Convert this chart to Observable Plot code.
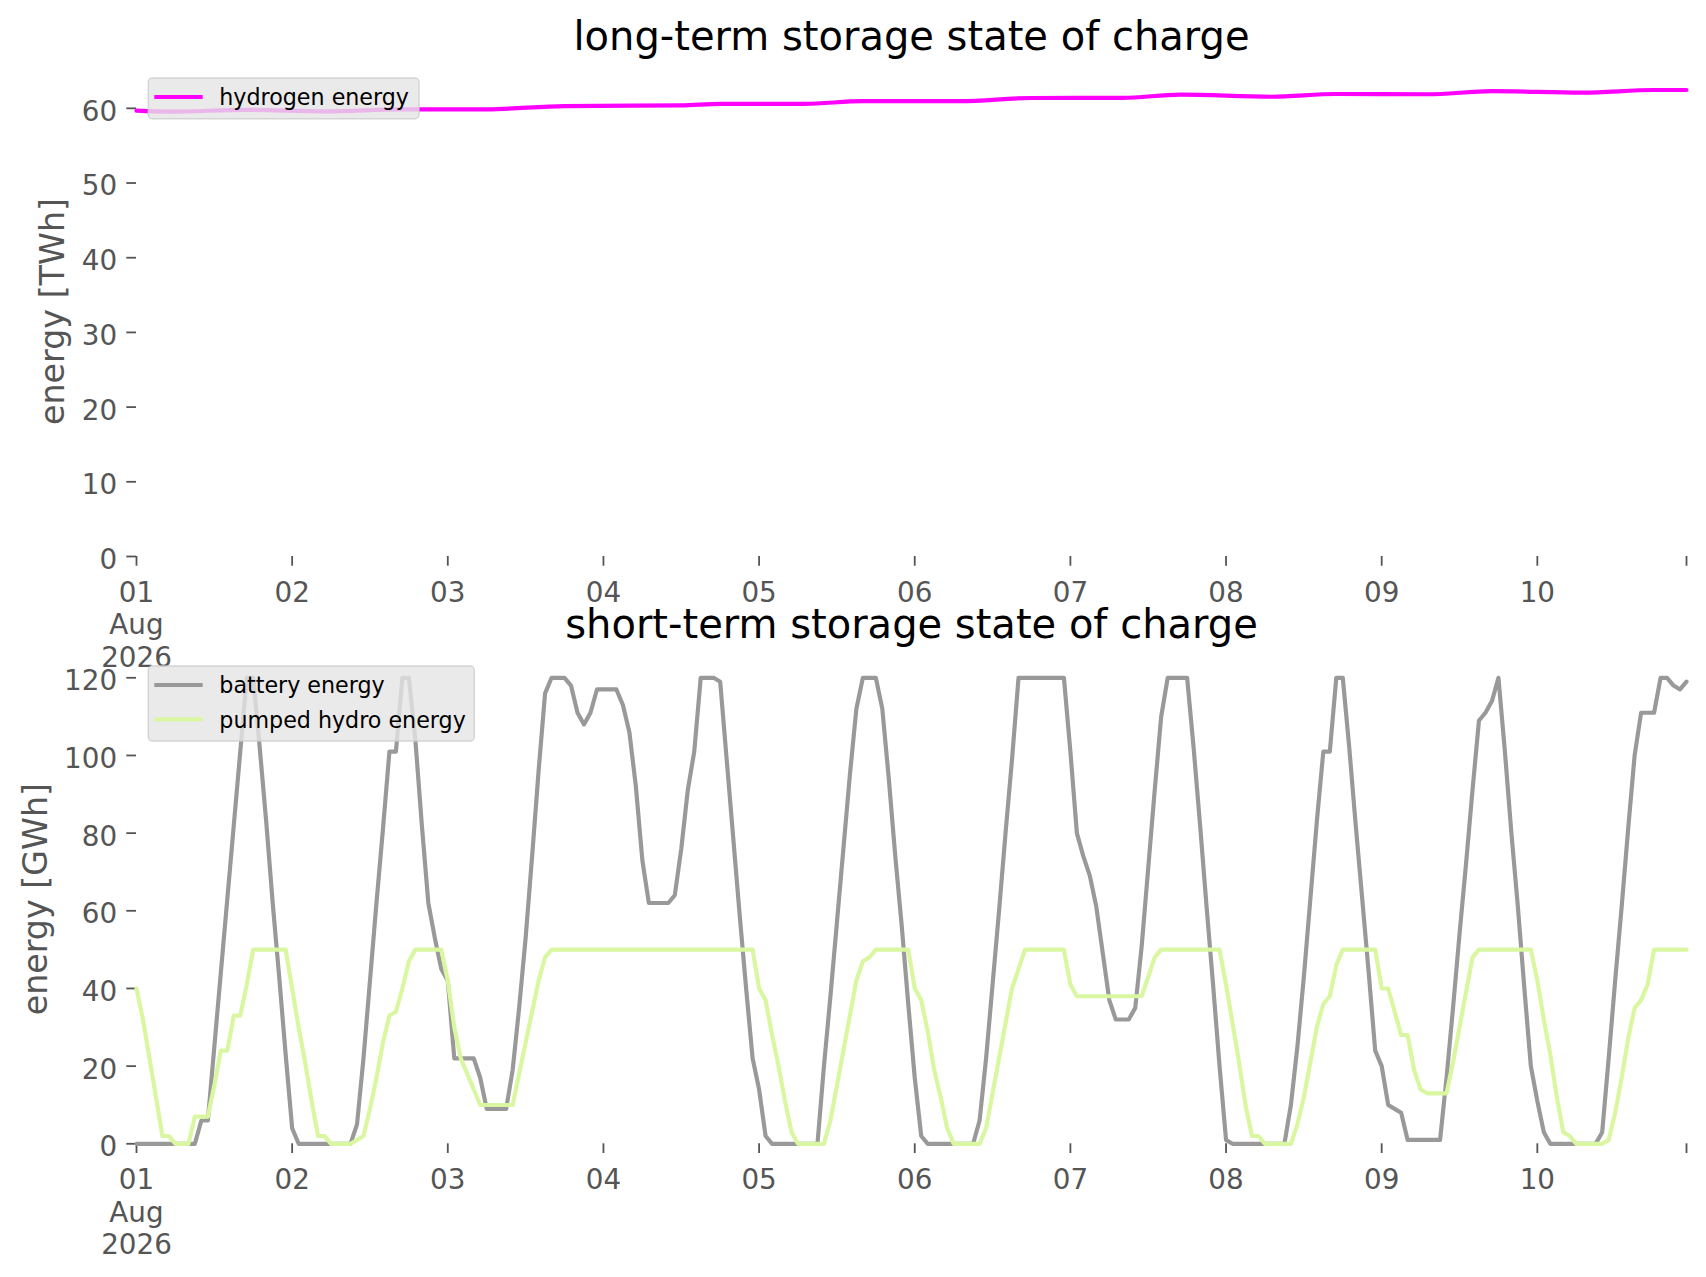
<!DOCTYPE html>
<html>
<head>
<meta charset="utf-8">
<script src="https://cdn.jsdelivr.net/npm/d3@7"></script>
<script src="https://cdn.jsdelivr.net/npm/@observablehq/plot@0.6"></script>
<style>
  html, body { margin: 0; padding: 0; background: #fff; overflow: hidden; }
  #wrap { position: relative; width: 1706px; height: 1277px; font-family: "DejaVu Sans", sans-serif; }
  #wrap > svg, #wrap > .lg { position: absolute; left: 0; }
</style>
</head>
<body>
<div id="wrap"></div>
<script>
// ---------------- data ----------------
const startDate = "2026-08-01T00:00:00Z";

// hydrogen state of charge, TWh (read at breakpoints, hours since start)
const hydrogenHours = [0, 5, 17, 29, 41, 54, 66, 84, 90, 103, 112, 127, 138, 152, 161, 175, 185, 199, 209, 223, 234, 239];
const hydrogenTWh   = [59.7, 59.55, 59.8, 59.6, 59.85, 59.87, 60.3, 60.4, 60.6, 60.6, 60.97, 60.97, 61.38, 61.4, 61.83, 61.55, 61.92, 61.88, 62.3, 62.1, 62.45, 62.45];

// battery state of charge, GWh, hourly (one line per day)
const batteryGWh = [
  0,0,0,0,0,0,0,0,0,0,6,6,25,44,63,82,101,120,120,102,83,62,43,23,          // 01
  4,0,0,0,0,0,0,0,0,0,5,22,42,62,81,101,101,120,120,104,82,62,53,45,        // 02
  42,22,22,22,22,17,9,9,9,9,19,35,53,74,96,116,120,120,120,118,111,108,111,117, // 03
  117,117,117,113,106,92,73,62,62,62,62,64,76,91,101,120,120,120,119,99,79,59,40,22, // 04
  14,2,0,0,0,0,0,0,0,0,20,38,57,76,95,112,120,120,120,112,94,74,56,36,      // 05
  17,2,0,0,0,0,0,0,0,0,6,22,41,60,80,99,120,120,120,120,120,120,120,120,    // 06
  101,80,74,69,61,49,37,32,32,32,35,51,71,91,110,120,120,120,120,102,82,61,41,20, // 07
  1,0,0,0,0,0,0,0,0,0,10,25,43,63,83,101,101,120,120,102,82,63,44,24,       // 08
  20,10,9,8,1,1,1,1,1,1,17,35,54,72,91,109,111,114,120,101,80,61,40,20,     // 09
  11,3,0,0,0,0,0,0,0,0,3,22,42,61,81,100,111,111,111,120,120,118,117,119    // 10
];

// pumped hydro state of charge, GWh, hourly (one line per day)
const pumpedHydroGWh = [
  40,32,22,12,2,2,0,0,0,7,7,7,15,24,24,33,33,41,50,50,50,50,50,50,          // 01
  40,30,21,11,2,2,0,0,0,0,1,2,9,17,26,33,34,40,47,50,50,50,50,50,           // 02
  42,30,22,18,14,10,10,10,10,10,10,18,26,34,42,48,50,50,50,50,50,50,50,50,  // 03
  50,50,50,50,50,50,50,50,50,50,50,50,50,50,50,50,50,50,50,50,50,50,50,50,  // 04
  40,37,28,20,11,3,0,0,0,0,0,6,15,24,33,42,47,48,50,50,50,50,50,50,         // 05
  40,37,29,19,12,4,0,0,0,0,0,4,13,22,31,40,45,50,50,50,50,50,50,50,         // 06
  41,38,38,38,38,38,38,38,38,38,38,38,43,48,50,50,50,50,50,50,50,50,50,50,  // 07
  41,31,21,10,2,2,0,0,0,0,0,5,12,21,30,36,38,46,50,50,50,50,50,50,          // 08
  40,40,34,28,28,19,14,13,13,13,13,21,30,39,48,50,50,50,50,50,50,50,50,50,  // 09
  42,32,23,12,3,2,0,0,0,0,0,1,8,17,27,35,37,41,50,50,50,50,50,50            // 10
];

const xTickHours = [0, 24, 48, 72, 96, 120, 144, 168, 192, 216, 239];
const dayTickLabels = ["01\nAug\n2026", "02", "03", "04", "05", "06", "07", "08", "09", "10"];
const yTicksTop = [0, 10, 20, 30, 40, 50, 60];
const yTicksBottom = [0, 20, 40, 60, 80, 100, 120];

const topTitle = "long-term storage state of charge";
const bottomTitle = "short-term storage state of charge";
const topYLabel = "energy [TWh]";
const bottomYLabel = "energy [GWh]";
const topSeries = [{name: "hydrogen energy", color: "#ff00ff"}];
const bottomSeries = [{name: "battery energy", color: "#999999"}, {name: "pumped hydro energy", color: "#d9f7a1"}];

// ---------------- build ----------------
const t0 = Date.parse(startDate);
const hourDate = h => new Date(t0 + h * 3600000);
const hydrogenData = hydrogenHours.map((h, i) => ({date: hourDate(h), value: hydrogenTWh[i]}));
const batteryData = batteryGWh.map((v, h) => ({date: hourDate(h), value: v}));
const pumpedData = pumpedHydroGWh.map((v, h) => ({date: hourDate(h), value: v}));
const xTicks = xTickHours.map(hourDate);
const xTickFormat = d => {
  const h = Math.round((d - t0) / 3600000);
  return h % 24 === 0 ? dayTickLabels[h / 24] : "";
};

const W = 1706;
const FONT = "DejaVu Sans";
const tickFont = 27.8;
const lw = 4.17;
const axisGray = "#555555";

function axes(yTicks) {
  return [
    // y ticks (marks only)
    Plot.axisY({ticks: yTicks, tickSize: 9.7, label: null, stroke: axisGray, strokeWidth: 1.8, fill: "none"}),
    // y tick labels (text only)
    Plot.axisY({ticks: yTicks, tickSize: 9.7, tickPadding: 9.7, fontSize: tickFont, label: null, dy: 3.5,
                tickFormat: d => String(d), stroke: "none", fill: axisGray}),
    Plot.axisX({ticks: xTicks, tickSize: 9.7, tickPadding: 12.5, fontSize: tickFont, label: null,
                tickFormat: xTickFormat, lineHeight: 1.17, stroke: axisGray, strokeWidth: 1.8, fill: axisGray})
  ];
}

function panel({top, height, marginTop, marginBottom, yMax, yTicks, title, ylabel, ylabelDx, lines}) {
  const svg = Plot.plot({
    width: W, height, marginLeft: 136, marginRight: 20, marginTop, marginBottom,
    style: {background: "transparent", fontFamily: FONT, color: axisGray, overflow: "visible"},
    x: {type: "utc", domain: [hourDate(0), hourDate(239)]},
    y: {domain: [0, yMax]},
    marks: [
      ...axes(yTicks),
      ...lines,
      Plot.text([title], {text: d => d, frameAnchor: "top", textAnchor: "middle", lineAnchor: "bottom", dy: -17, fontSize: 40, fill: "#000000"}),
      Plot.text([ylabel], {text: d => d, frameAnchor: "left", textAnchor: "middle", lineAnchor: "middle", dx: ylabelDx, rotate: -90, fontSize: 33.3, fill: axisGray})
    ]
  });
  svg.style.top = top + "px";
  return svg;
}

function legend(svgTop, boxTop, boxWidth, series) {
  const ns = "http://www.w3.org/2000/svg";
  const rowH = 34.3;
  const h = 40.7 + rowH * (series.length - 1);
  const s = document.createElementNS(ns, "svg");
  s.setAttribute("width", W);
  s.setAttribute("height", 200);
  s.setAttribute("class", "lg");
  s.style.top = svgTop + "px";
  const y0 = boxTop - svgTop;
  const rect = document.createElementNS(ns, "rect");
  Object.entries({x: 148.3, y: y0, width: boxWidth, height: h, rx: 4, fill: "#e5e5e5", "fill-opacity": 0.8,
                  stroke: "#cccccc", "stroke-opacity": 0.8, "stroke-width": 1.4}).forEach(([k, v]) => rect.setAttribute(k, v));
  s.appendChild(rect);
  series.forEach((d, i) => {
    const ly = y0 + 19 + i * rowH;
    const line = document.createElementNS(ns, "line");
    Object.entries({x1: 154.3, x2: 202.7, y1: ly, y2: ly, stroke: d.color, "stroke-width": lw}).forEach(([k, v]) => line.setAttribute(k, v));
    s.appendChild(line);
    const t = document.createElementNS(ns, "text");
    Object.entries({x: 219.3, y: ly + 8.3, "font-size": 22.2, fill: "#000", "font-family": FONT}).forEach(([k, v]) => t.setAttribute(k, v));
    t.textContent = d.name;
    s.appendChild(t);
  });
  return s;
}

const wrap = document.getElementById("wrap");

wrap.appendChild(panel({
  top: 0, height: 690, marginTop: 66, marginBottom: 690 - 556, yMax: 65.6, yTicks: yTicksTop,
  title: topTitle, ylabel: topYLabel, ylabelDx: -83.5,
  lines: [Plot.line(hydrogenData, {x: "date", y: "value", stroke: topSeries[0].color, strokeWidth: lw, curve: "monotone-x"})]
}));

wrap.appendChild(panel({
  top: 580, height: 697, marginTop: 74, marginBottom: 133.7, yMax: 126, yTicks: yTicksBottom,
  title: bottomTitle, ylabel: bottomYLabel, ylabelDx: -100,
  lines: [
    Plot.line(batteryData, {x: "date", y: "value", stroke: bottomSeries[0].color, strokeWidth: lw}),
    Plot.line(pumpedData, {x: "date", y: "value", stroke: bottomSeries[1].color, strokeWidth: lw})
  ]
}));

wrap.appendChild(legend(0, 78, 270.7, topSeries));
wrap.appendChild(legend(600, 666, 326, bottomSeries));
</script>
</body>
</html>
